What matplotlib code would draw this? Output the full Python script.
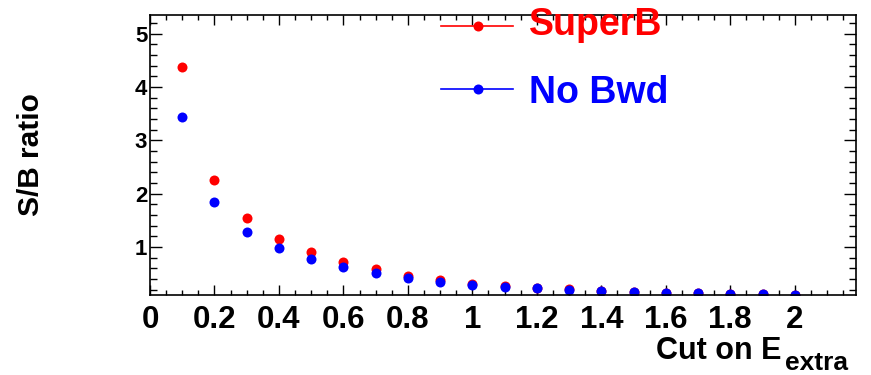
import matplotlib
matplotlib.use('Agg')
import matplotlib.pyplot as plt
from matplotlib.lines import Line2D
from matplotlib.ticker import MultipleLocator, FixedLocator

# ---------------- DATA ----------------
cut_values = [0.1, 0.2, 0.3, 0.4, 0.5, 0.6, 0.7, 0.8, 0.9, 1.0,
              1.1, 1.2, 1.3, 1.4, 1.5, 1.6, 1.7, 1.8, 1.9, 2.0]
superb_ratio = [4.375, 2.256, 1.537, 1.155, 0.900, 0.718, 0.581, 0.460, 0.385, 0.311,
                0.268, 0.228, 0.203, 0.182, 0.158, 0.145, 0.132, 0.126, 0.119, 0.107]
nobwd_ratio = [3.437, 1.837, 1.287, 0.980, 0.780, 0.624, 0.512, 0.412, 0.343, 0.287,
               0.250, 0.222, 0.199, 0.178, 0.155, 0.142, 0.130, 0.123, 0.117, 0.104]
x_ticks = [0, 0.2, 0.4, 0.6, 0.8, 1.0, 1.2, 1.4, 1.6, 1.8, 2.0]
x_tick_labels = ['0', '0.2', '0.4', '0.6', '0.8', '1', '1.2', '1.4', '1.6', '1.8', '2']
y_ticks = [1, 2, 3, 4, 5]
series_names = ['SuperB', 'No Bwd']
series_colors = ['#ff0000', '#0000ff']

FONT = 'Liberation Sans'

# ---------------- PLOT ----------------
fig = plt.figure(figsize=(8.71, 3.75), dpi=100)
ax = fig.add_axes([150/871, 79.7/375, 706/871, 280/375])

ax.plot(cut_values, superb_ratio, 'o', color=series_colors[0], markersize=7.2, markeredgewidth=0)
ax.plot(cut_values, nobwd_ratio, 'o', color=series_colors[1], markersize=7.2, markeredgewidth=0)

ax.set_xlim(0, 2.19)
ax.set_ylim(0.094, 5.344)

ax.xaxis.set_major_locator(FixedLocator(x_ticks))
ax.set_xticklabels(x_tick_labels, fontfamily=FONT, fontweight='bold', fontsize=22.5)
ax.xaxis.set_minor_locator(MultipleLocator(0.05))
ax.yaxis.set_major_locator(FixedLocator(y_ticks))
ax.set_yticklabels([str(v) for v in y_ticks], fontfamily=FONT, fontweight='bold', fontsize=16)
ax.yaxis.set_minor_locator(MultipleLocator(0.2))

ax.tick_params(which='both', direction='in', top=True, right=True, width=1)
ax.tick_params(axis='x', which='major', length=7, pad=7)
ax.tick_params(axis='x', which='minor', length=3.5)
ax.tick_params(axis='y', which='major', length=8.5, pad=2)
ax.tick_params(axis='y', which='minor', length=5)
for sp in ax.spines.values():
    sp.set_linewidth(1.2)

# axis titles
fig.text(31/871, 1 - 155/375, 'S/B ratio', rotation=90, ha='center', va='center',
         fontfamily=FONT, fontweight='bold', fontsize=21.5)
fig.text(781/871, 1 - 359/375, 'Cut on E', ha='right', va='baseline',
         fontfamily=FONT, fontweight='bold', fontsize=22)
fig.text(785/871, 1 - 370/375, 'extra', ha='left', va='baseline',
         fontfamily=FONT, fontweight='bold', fontsize=19)

# legend drawn by hand, ROOT style
line_y = [26, 89]
text_base = [35, 102.7]
for name, col, ly, tb in zip(series_names, series_colors, line_y, text_base):
    yy = 1 - ly / 375
    fig.add_artist(Line2D([441/871, 513/871], [yy, yy], color=col, lw=1.2,
                          transform=fig.transFigure))
    fig.add_artist(Line2D([478/871], [yy], marker='o', color=col, markersize=7.2,
                          markeredgewidth=0, transform=fig.transFigure))
    fig.text(529/871, 1 - tb / 375, name, color=col, ha='left', va='baseline',
             fontfamily=FONT, fontweight='bold', fontsize=27)

fig.savefig('out.png', dpi=100)
